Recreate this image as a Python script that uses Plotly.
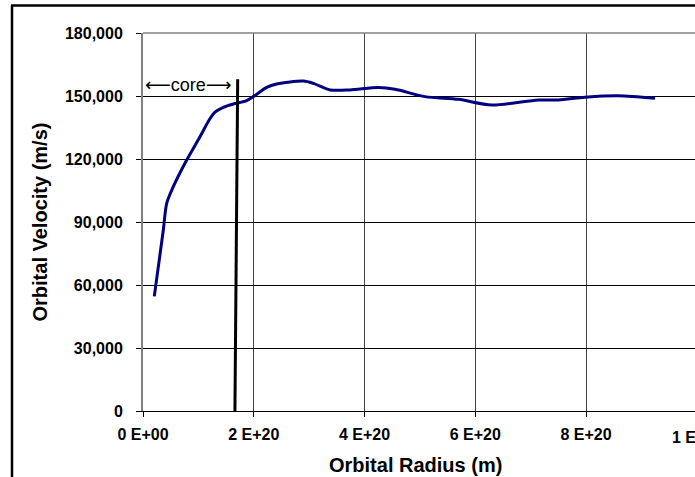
import plotly.graph_objects as go

# ---- data ----
radius_m = [0.204e20, 0.367e20, 0.428e20, 0.547e20, 0.789e20, 1.029e20, 1.200e20, 1.300e20,
            1.450e20, 1.631e20, 1.873e20, 1.992e20, 2.234e20, 2.415e20, 2.895e20, 3.075e20,
            3.377e20, 3.738e20, 4.249e20, 4.551e20, 5.093e20, 5.694e20, 6.297e20, 7.139e20,
            7.500e20, 7.982e20, 8.583e20, 9.246e20]
velocity_ms = [54600, 86200, 98900, 106800, 119500, 130600, 138800, 142300,
               144600, 146200, 147800, 149700, 154100, 155700, 157100, 156000,
               152900, 152900, 154000, 153200, 149700, 148400, 145700, 148100,
               148100, 149400, 150100, 148900]

core_x = [1.66e20, 1.71e20]
core_y = [0, 158000]
core_word = "core"
core_label_y = 155700

x_tickvals = [0, 2e20, 4e20, 6e20, 8e20]
x_ticktext = ["0 E+00", "2 E+20", "4 E+20", "6 E+20", "8 E+20"]
x_offscale_tick = "1 E+21"
y_tickvals = [0, 30000, 60000, 90000, 120000, 150000, 180000]

x_title = "Orbital Radius (m)"
y_title = "Orbital Velocity (m/s)"

FONT = "Liberation Sans, Arial, sans-serif"

W, H = 695, 477
PL, PT, PB = 143, 33, 411          # plot area edges in window pixels
L, T, R_, B = PL, PT, 0, H - PB
plot_w = W - L - R_
plot_h = H - T - B
px_per_unit = 443 / 8e20
x_max = plot_w / px_per_unit

def xp(px):
    return (px - PL) / plot_w

def yp(py):
    return (PB - py) / plot_h

fig = go.Figure()
fig.add_trace(go.Scatter(x=radius_m, y=velocity_ms, mode="lines",
                         line=dict(color="#000080", width=3, shape="spline", smoothing=0.8),
                         hoverinfo="skip", showlegend=False))
fig.add_trace(go.Scatter(x=core_x, y=core_y, mode="lines",
                         line=dict(color="black", width=3),
                         hoverinfo="skip", showlegend=False))

fig.update_layout(
    width=W, height=H,
    margin=dict(l=L, r=R_, t=T, b=B, pad=0),
    paper_bgcolor="white", plot_bgcolor="white",
    font=dict(family=FONT, color="black"),
    showlegend=False,
    xaxis=dict(range=[0, x_max], tickmode="array", tickvals=x_tickvals, ticktext=x_ticktext,
               showgrid=True, gridcolor="#444444", gridwidth=1,
               showline=True, linecolor="black", linewidth=1,
               ticks="outside", ticklen=5, tickcolor="black",
               tickfont=dict(family=FONT, size=16, color="black", weight="bold"),
               zeroline=False, ticklabelstandoff=4),
    yaxis=dict(range=[0, 180000], tickmode="array", tickvals=y_tickvals,
               tickformat=",d",
               showgrid=True, gridcolor="black", gridwidth=1,
               showline=True, linecolor="#808080", linewidth=2,
               ticks="outside", ticklen=5, tickcolor="black",
               tickfont=dict(family=FONT, size=16, color="black", weight="bold"),
               zeroline=False, ticklabelstandoff=10),
)

# top border of plot area (gray)
fig.add_shape(type="line", xref="paper", yref="paper", x0=0, x1=1.2, y0=1, y1=1,
              line=dict(color="#808080", width=1.5), layer="above")
# outer chart frame: top edge and left edge (right/bottom lie outside the window)
fig.add_shape(type="line", xref="paper", yref="paper",
              x0=xp(11), x1=1.05, y0=yp(5.5), y1=yp(5.5),
              line=dict(color="black", width=2.5), layer="above")
fig.add_shape(type="line", xref="paper", yref="paper",
              x0=xp(12), x1=xp(12), y0=yp(5.5), y1=-0.3,
              line=dict(color="black", width=2.5), layer="above")

arrow_font = "DejaVu Sans"
core_text = (f'<span style="font-family:{arrow_font}">\u27f5</span>'
             f'{core_word}'
             f'<span style="font-family:{arrow_font}">\u27f6</span>')
fig.add_annotation(text=core_text, x=0, y=core_label_y, xref="x", yref="y",
                   xanchor="left", yanchor="middle", showarrow=False,
                   font=dict(family=FONT, size=18, color="black"))
fig.add_annotation(text=x_offscale_tick, x=xp(697), y=yp(437), xref="paper", yref="paper",
                   xanchor="center", yanchor="middle", showarrow=False,
                   font=dict(family=FONT, size=16, color="black", weight="bold"))
fig.add_annotation(text=x_title, x=xp(415), y=yp(465), xref="paper", yref="paper",
                   xanchor="center", yanchor="middle", showarrow=False,
                   font=dict(family=FONT, size=20, color="black", weight="bold"))
fig.add_annotation(text=y_title, x=xp(39.5), y=0.5, xref="paper", yref="paper",
                   xanchor="center", yanchor="middle", showarrow=False, textangle=-90,
                   font=dict(family=FONT, size=20, color="black", weight="bold"))

# remove the page's default body margin so the figure sits at the window origin
fig.write_html("out.html",
               config={"displayModeBar": False},
               post_script="document.body.style.margin='0';document.body.style.overflow='hidden';")
